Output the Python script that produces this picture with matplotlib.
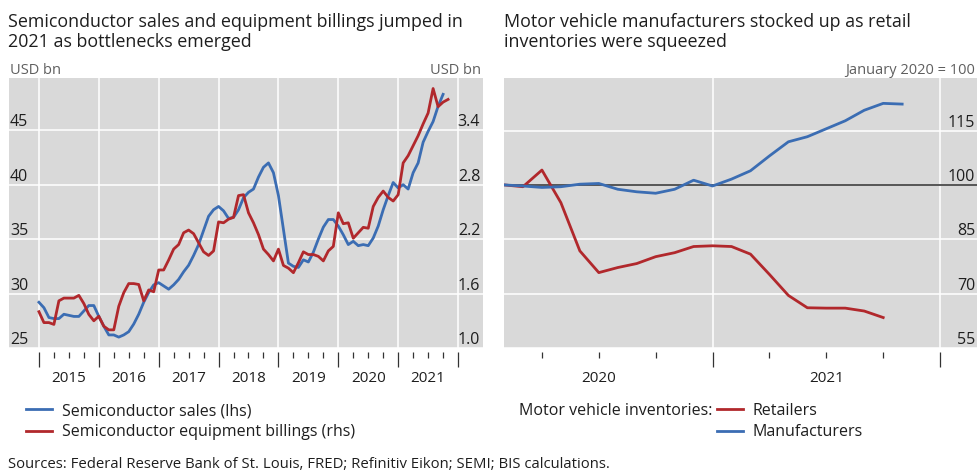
import matplotlib.pyplot as plt
import numpy as np

plt.rcParams['font.family'] = ['Open Sans', 'DejaVu Sans']

# Left panel: monthly, starting January 2015
# Semiconductor sales, USD bn (lhs), Jan 2015 - Oct 2021
semi_sales = [
    29.2, 28.7, 27.8, 27.7, 27.7, 28.1, 28.0, 27.9, 27.9, 28.4, 28.9, 28.9,
    27.9, 27.0, 26.2, 26.2, 26.0, 26.2, 26.5, 27.2, 28.1, 29.2, 30.1, 30.8,
    31.0, 30.7, 30.4, 30.8, 31.3, 32.0, 32.6, 33.5, 34.5, 35.8, 37.1, 37.7,
    38.0, 37.6, 36.9, 37.0, 37.7, 38.8, 39.3, 39.6, 40.7, 41.6, 42.0, 41.1,
    39.0, 35.9, 32.8, 32.5, 32.4, 33.1, 32.9, 33.8, 35.0, 36.1, 36.8, 36.8,
    36.2, 35.4, 34.5, 34.8, 34.4, 34.5, 34.4, 35.1, 36.2, 37.7, 39.0, 40.2,
    39.7, 40.0, 39.6, 41.1, 42.0, 43.9, 44.9, 45.8, 47.2, 48.3,
]
# Semiconductor equipment billings, USD bn (rhs), Jan 2015 - Nov 2021
equip_billings = [
    1.40, 1.28, 1.28, 1.26, 1.52, 1.55, 1.55, 1.55, 1.58, 1.49, 1.37, 1.30,
    1.35, 1.24, 1.20, 1.20, 1.46, 1.61, 1.71, 1.71, 1.70, 1.52, 1.64, 1.62,
    1.86, 1.86, 1.97, 2.09, 2.14, 2.27, 2.30, 2.26, 2.16, 2.06, 2.02, 2.07,
    2.39, 2.38, 2.42, 2.44, 2.68, 2.69, 2.49, 2.38, 2.25, 2.09, 2.03, 1.96,
    2.09, 1.91, 1.88, 1.83, 1.94, 2.06, 2.03, 2.03, 2.01, 1.96, 2.07, 2.12,
    2.49, 2.37, 2.38, 2.21, 2.27, 2.33, 2.32, 2.56, 2.66, 2.73, 2.66, 2.62,
    2.69, 3.04, 3.12, 3.23, 3.34, 3.47, 3.59, 3.86, 3.66, 3.71, 3.74,
]
years_left = ['2015', '2016', '2017', '2018', '2019', '2020', '2021']
lhs_ticks = [25, 30, 35, 40, 45]
rhs_ticks = [1.0, 1.6, 2.2, 2.8, 3.4]

# Right panel: motor vehicle inventories, January 2020 = 100, monthly from Jan 2020
retailers = [
    100.0, 99.5, 104.1, 95.1, 81.8, 75.8, 77.2, 78.3, 80.2, 81.3, 83.0, 83.2,
    83.0, 80.9, 75.3, 69.5, 66.1, 66.0, 66.0, 65.2, 63.4,
]
manufacturers = [
    100.0, 99.7, 99.3, 99.5, 100.2, 100.4, 98.8, 98.1, 97.7, 98.8, 101.3, 99.7,
    101.6, 103.9, 108.0, 111.9, 113.3, 115.5, 117.7, 120.6, 122.5, 122.3,
]
years_right = ['2020', '2021']
idx_ticks = [55, 70, 85, 100, 115]

BLUE = '#3b6db3'
RED = '#b1282c'
BG = '#d9d9d9'
TXT = '#1e1e1e'
GREY = '#5f5f5f'
FS = 11.5


def style_time_axis(ax, years, first_year_start):
    ax.set_facecolor(BG)
    for s in ax.spines.values():
        s.set_visible(False)
    ax.spines['bottom'].set_position(('outward', 3))
    lo, hi = ax.get_xlim()
    starts = [first_year_start + 12 * i for i in range(len(years))]
    majors = [s for s in starts + [starts[-1] + 12] if lo <= s <= hi]
    minors = [s + q for s in starts for q in (3, 6, 9) if lo < s + q < hi]
    ax.set_xticks(majors)
    ax.set_xticks(minors, minor=True)
    ax.tick_params(axis='x', which='major', length=11, width=0.9, color='#333333', labelbottom=False)
    ax.tick_params(axis='x', which='minor', length=4.3, width=0.9, color='#333333', labelbottom=False)
    ax.tick_params(axis='y', length=0, labelleft=False)
    ax.grid(True, which='major', color='white', lw=1.1)
    ax.set_axisbelow(True)
    for s, y in zip(starts, years):
        ax.annotate(y, (s + 6, 0), xycoords=ax.get_xaxis_transform(), xytext=(0, -22),
                    textcoords='offset points', ha='center', va='center', fontsize=11, color=TXT)


fig = plt.figure(figsize=(9.78, 4.71), dpi=100)
ax1 = fig.add_axes([9 / 978, 123 / 471, 474 / 978, 270 / 471])
ax2 = fig.add_axes([504 / 978, 123 / 471, 474 / 978, 270 / 471])

# ---- left panel
x_sales = np.arange(len(semi_sales))
x_bill = np.arange(len(equip_billings))
ax1.set_xlim(-6, 89)
ax1.set_ylim(25, 49.8)
ax1.set_yticks(lhs_ticks)
style_time_axis(ax1, years_left, 0)
ax1.plot(x_sales, semi_sales, color=BLUE, lw=2.0, solid_joinstyle='round', zorder=3)

tw = ax1.twinx()
tw.set_ylim(1.0, 1.0 + (49.8 - 25) * 0.12)
tw.set_yticks([])
for s in tw.spines.values():
    s.set_visible(False)
tw.plot(x_bill, equip_billings, color=RED, lw=2.0, solid_joinstyle='round', zorder=3)

for v in lhs_ticks:
    ax1.text(0.002, v, f'{v}', transform=ax1.get_yaxis_transform(), ha='left', va='bottom',
             fontsize=FS, color=TXT)
for v in rhs_ticks:
    tw.text(0.994, v, f'{v:.1f}', transform=tw.get_yaxis_transform(), ha='right', va='bottom',
            fontsize=FS, color=TXT)

# ---- right panel
x_ret = np.arange(len(retailers)) + 1
x_man = np.arange(len(manufacturers)) + 1
ax2.set_xlim(1, 26)
ax2.set_ylim(55, 129.5)
ax2.set_yticks(idx_ticks)
style_time_axis(ax2, years_right, 0)
ax2.axhline(100, color='#555555', lw=1.4, zorder=2)
ax2.plot(x_ret, retailers, color=RED, lw=2.0, solid_joinstyle='round', zorder=3)
ax2.plot(x_man, manufacturers, color=BLUE, lw=2.0, solid_joinstyle='round', zorder=3)
for v in idx_ticks:
    ax2.text(0.994, v, f'{v}', transform=ax2.get_yaxis_transform(), ha='right', va='bottom',
             fontsize=FS, color=TXT)

# ---- titles and units
fig.text(8 / 978, 1 - 13 / 471,
         'Semiconductor sales and equipment billings jumped in\n2021 as bottlenecks emerged',
         ha='left', va='top', fontsize=12.9, color=TXT, linespacing=1.12)
fig.text(504 / 978, 1 - 13 / 471,
         'Motor vehicle manufacturers stocked up as retail\ninventories were squeezed',
         ha='left', va='top', fontsize=12.9, color=TXT, linespacing=1.12)
fig.text(10 / 978, 1 - 70 / 471, 'USD bn', ha='left', va='center', fontsize=10.5, color=GREY)
fig.text(481 / 978, 1 - 70 / 471, 'USD bn', ha='right', va='center', fontsize=10.5, color=GREY)
fig.text(975 / 978, 1 - 70 / 471, 'January 2020 = 100', ha='right', va='center', fontsize=10.5, color=GREY)

# ---- legends
h_sales, = ax1.plot([], [], color=BLUE, lw=2.0)
h_bill, = ax1.plot([], [], color=RED, lw=2.0)
fig.legend([h_sales, h_bill], ['Semiconductor sales (lhs)', 'Semiconductor equipment billings (rhs)'],
           loc='upper left', bbox_to_anchor=(26 / 978, 1 - 403 / 471), frameon=False,
           fontsize=FS, handlelength=1.65, handletextpad=0.6, labelspacing=0.32,
           borderpad=0, borderaxespad=0, labelcolor=TXT)

fig.text(712 / 978, 1 - 411 / 471, 'Motor vehicle inventories:', ha='right', va='center',
         fontsize=FS, color=TXT)
h_ret, = ax2.plot([], [], color=RED, lw=2.0)
h_man, = ax2.plot([], [], color=BLUE, lw=2.0)
fig.legend([h_ret, h_man], ['Retailers', 'Manufacturers'],
           loc='upper left', bbox_to_anchor=(717 / 978, 1 - 403 / 471), frameon=False,
           fontsize=FS, handlelength=1.65, handletextpad=0.6, labelspacing=0.32,
           borderpad=0, borderaxespad=0, labelcolor=TXT)

fig.text(8 / 978, 1 - 464 / 471,
         'Sources: Federal Reserve Bank of St. Louis, FRED; Refinitiv Eikon; SEMI; BIS calculations.',
         ha='left', va='center', fontsize=10.7, color=TXT)

fig.savefig('out.png', dpi=100)
